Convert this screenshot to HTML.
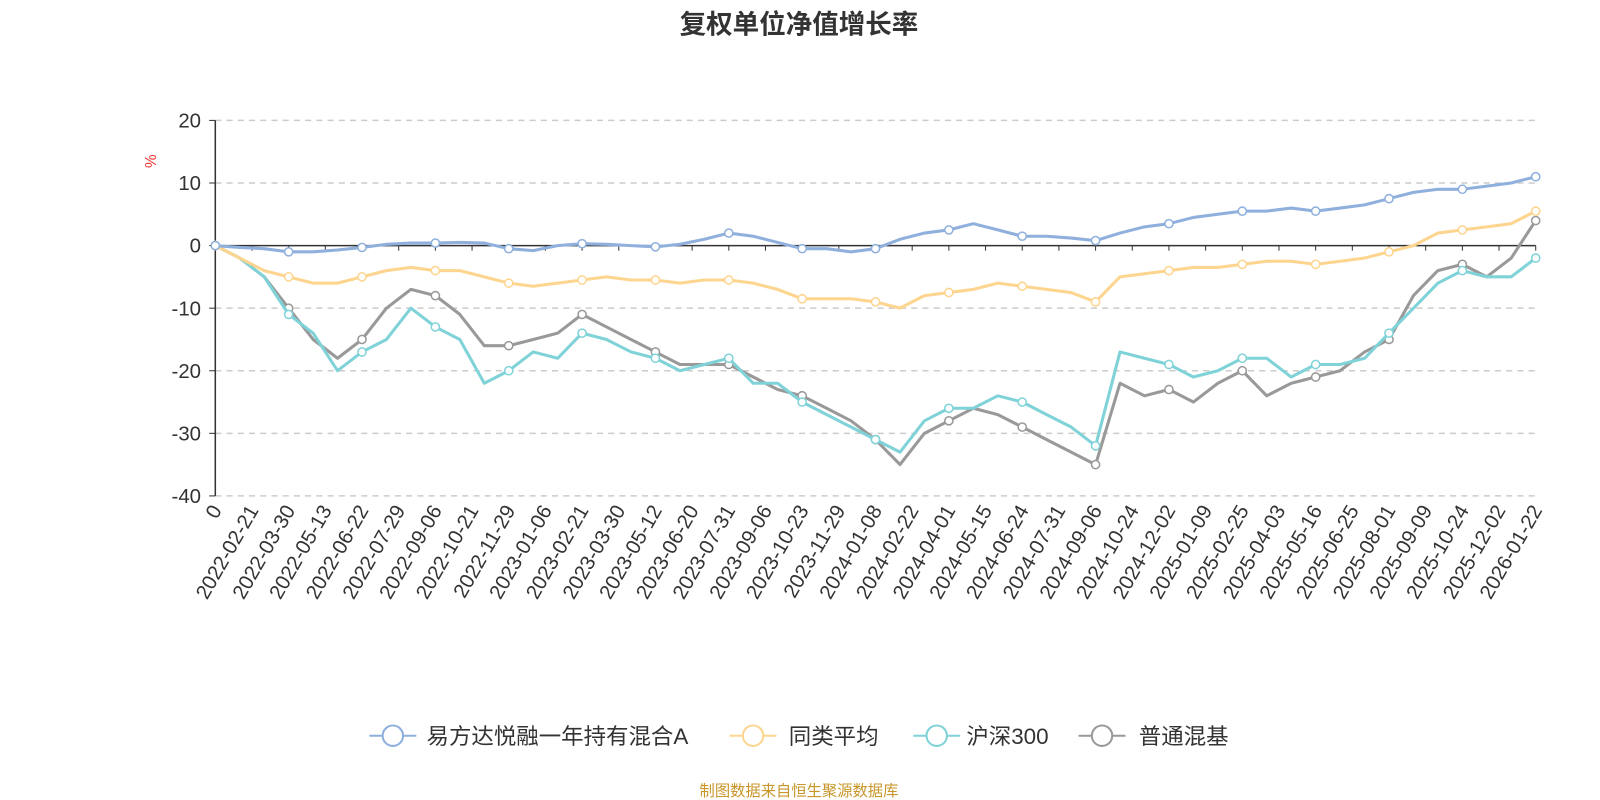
<!DOCTYPE html>
<html><head><meta charset="utf-8">
<style>
body{margin:0;background:#fff;width:1600px;height:800px;overflow:hidden;font-family:"Liberation Sans","Noto Sans CJK SC",sans-serif;}
svg{display:block}
</style></head>
<body>
<svg id="chart" width="1600" height="800" viewBox="0 0 1568 784" xmlns="http://www.w3.org/2000/svg">
<text x="783" y="33" text-anchor="middle" font-size="26" font-weight="bold" fill="#333" font-family="Liberation Sans, Noto Sans CJK SC, sans-serif">复权单位净值增长率</text>
<text transform="translate(153,158) rotate(-90)" text-anchor="middle" font-size="15" fill="#e33">%</text>
<g id="grid"></g><g id="axes"></g><g id="lines"></g>
<g font-size="22" fill="#333" font-family="Liberation Sans, Noto Sans CJK SC, sans-serif">
 <g><line x1="362" y1="721" x2="408" y2="721" stroke="#8fb0dd" stroke-width="2"/><circle cx="385" cy="721" r="10" fill="#fff" stroke="#8fb0dd" stroke-width="2"/><text x="418" y="729">易方达悦融一年持有混合A</text></g>
 <g><line x1="715" y1="721" x2="761" y2="721" stroke="#fdd58f" stroke-width="2"/><circle cx="738" cy="721" r="10" fill="#fff" stroke="#fdd58f" stroke-width="2"/><text x="773" y="729">同类平均</text></g>
 <g><line x1="895" y1="721" x2="941" y2="721" stroke="#7fd3d8" stroke-width="2"/><circle cx="918" cy="721" r="10" fill="#fff" stroke="#7fd3d8" stroke-width="2"/><text x="947" y="729">沪深300</text></g>
 <g><line x1="1057" y1="721" x2="1103" y2="721" stroke="#999" stroke-width="2"/><circle cx="1080" cy="721" r="10" fill="#fff" stroke="#999" stroke-width="2"/><text x="1116" y="729">普通混基</text></g>
</g>
<text x="783" y="780" text-anchor="middle" font-size="15" fill="#c8962a" font-family="Liberation Sans, Noto Sans CJK SC, sans-serif">制图数据来自恒生聚源数据库</text>
</svg>
<script>
const xLabels=["0","2022-02-21","2022-03-30","2022-05-13","2022-06-22","2022-07-29","2022-09-06","2022-10-21","2022-11-29","2023-01-06","2023-02-21","2023-03-30","2023-05-12","2023-06-20","2023-07-31","2023-09-06","2023-10-23","2023-11-29","2024-01-08","2024-02-22","2024-04-01","2024-05-15","2024-06-24","2024-07-31","2024-09-06","2024-10-24","2024-12-02","2025-01-09","2025-02-25","2025-04-03","2025-05-16","2025-06-25","2025-08-01","2025-09-09","2025-10-24","2025-12-02","2026-01-22"];
const yTicks=[20,10,0,-10,-20,-30,-40];
const fundA=[0,-0.3,-0.5,-1,-1,-0.7,-0.3,0.2,0.4,0.4,0.5,0.4,-0.5,-0.8,0,0.3,0.2,0,-0.2,0.2,1,2,1.5,0.5,-0.5,-0.5,-1,-0.5,1,2,2.5,3.5,2.5,1.5,1.5,1.2,0.8,2,3,3.5,4.5,5,5.5,5.5,6,5.5,6,6.5,7.5,8.5,9,9,9.5,10,11];
const peerAvg=[0,-2,-4,-5,-6,-6,-5,-4,-3.5,-4,-4,-5,-6,-6.5,-6,-5.5,-5,-5.5,-5.5,-6,-5.5,-5.5,-6,-7,-8.5,-8.5,-8.5,-9,-10,-8,-7.5,-7,-6,-6.5,-7,-7.5,-9,-5,-4.5,-4,-3.5,-3.5,-3,-2.5,-2.5,-3,-2.5,-2,-1,0,2,2.5,3,3.5,5.5];
const csi300=[0,-2,-5,-11,-14,-20,-17,-15,-10,-13,-15,-22,-20,-17,-18,-14,-15,-17,-18,-20,-19,-18,-22,-22,-25,-27,-29,-31,-33,-28,-26,-26,-24,-25,-27,-29,-32,-17,-18,-19,-21,-20,-18,-18,-21,-19,-19,-18,-14,-10,-6,-4,-5,-5,-2];
const mixed=[0,-2,-5,-10,-15,-18,-15,-10,-7,-8,-11,-16,-16,-15,-14,-11,-13,-15,-17,-19,-19,-19,-21,-23,-24,-26,-28,-31,-35,-30,-28,-26,-27,-29,-31,-33,-35,-22,-24,-23,-25,-22,-20,-24,-22,-21,-20,-17,-15,-8,-4,-3,-5,-2,4];
const X0=211,X1=1505,Y0=118,Y1=486;
const ns="http://www.w3.org/2000/svg";
function yS(v){return Y0+(20-v)*(Y1-Y0)/60;}
function xIdx(i,n){return X0+i*(X1-X0)/(n-1);}
function mk(tag,attrs,parent){const e=document.createElementNS(ns,tag);for(const k in attrs)e.setAttribute(k,attrs[k]);parent.appendChild(e);return e;}
const grid=document.getElementById('grid'),axes=document.getElementById('axes'),lines=document.getElementById('lines');
yTicks.forEach(v=>{
 const y=yS(v);
 if(v!==0){const g=mk('line',{x1:X0,x2:X1,y1:y,y2:y,stroke:'#ccc','stroke-dasharray':'6,5','stroke-width':1.5},grid);
 
 }
 mk('line',{x1:X0-6,x2:X0,y1:y,y2:y,stroke:'#333'},axes);
 const t=mk('text',{x:X0-14,y:y+7,'text-anchor':'end','font-size':20,fill:'#333'},axes);
 t.textContent=v;
 
 
});
const ya=mk('line',{x1:X0,x2:X0,y1:Y0,y2:Y1,stroke:'#333','stroke-width':1.5},axes);


const xa=mk('line',{x1:X0,x2:X1,y1:yS(0),y2:yS(0),stroke:'#333','stroke-width':1.5},axes);


xLabels.forEach((l,i)=>{
 const x=X0+i*(X1-X0)/(xLabels.length-1);
 mk('line',{x1:x,x2:x,y1:yS(0),y2:yS(0)+5,stroke:'#333'},axes);
 const t=mk('text',{x:0,y:0,'text-anchor':'end','font-size':20,fill:'#333',transform:`translate(${x+7},${Y1+14}) rotate(-60)`},axes);
 t.textContent=l;
 
 
});
const series=[[mixed,'#999','series-mixed-fund'],[csi300,'#7fd3d8','series-csi300'],[peerAvg,'#fdd58f','series-peer-average'],[fundA,'#8fb0dd','series-fund-a']];
series.forEach(([d,c,name])=>{
 const pts=d.map((v,i)=>xIdx(i,d.length).toFixed(1)+','+yS(v).toFixed(1)).join(' ');
 const p=mk('polyline',{points:pts,fill:'none',stroke:c,'stroke-width':3,'stroke-linejoin':'round'},lines);
 
 
 d.forEach((v,i)=>{if(i%3===0||i===d.length-1){
  const m=mk('circle',{cx:xIdx(i,d.length),cy:yS(v),r:4,fill:'#fff',stroke:c,'stroke-width':1.5},lines);
  
  
 }});
});
</script>
</body></html>
